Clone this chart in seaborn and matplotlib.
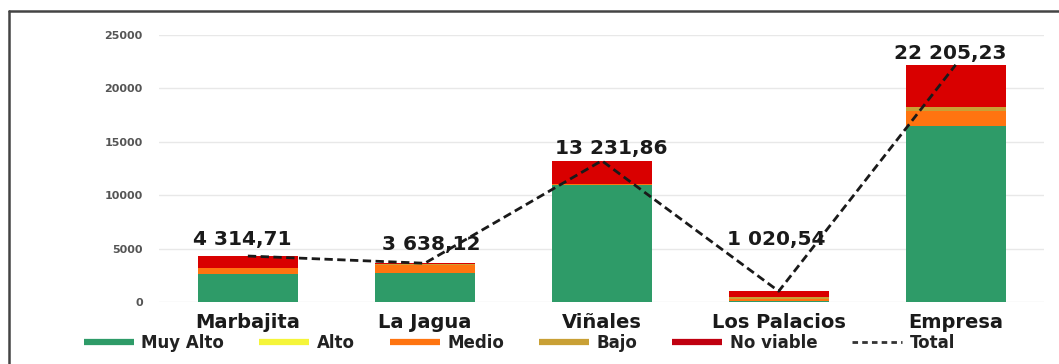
import numpy as np
import pandas as pd
import matplotlib
matplotlib.use("Agg")
import matplotlib.pyplot as plt
from matplotlib.lines import Line2D
import seaborn as sns

# ---- data ----
categories = ["Marbajita", "La Jagua", "Viñales", "Los Palacios", "Empresa"]
muy_alto = [2600, 2750, 10950, 150, 16450]
alto = [0, 0, 0, 0, 0]
medio = [550, 700, 80, 120, 1450]
bajo = [30, 150, 40, 180, 400]
no_viable = [1134.71, 38.12, 2161.86, 570.54, 3905.23]
totals = [4314.71, 3638.12, 13231.86, 1020.54, 22205.23]
total_labels = ["4 314,71", "3 638,12", "13 231,86", "1 020,54", "22 205,23"]
series_names = ["Muy Alto", "Alto", "Medio", "Bajo", "No viable"]
y_ticks = [0, 5000, 10000, 15000, 20000, 25000]

colors = {
    "Muy Alto": "#2e9b68",
    "Alto": "#f5f53a",
    "Medio": "#ff7410",
    "Bajo": "#c9a035",
    "No viable": "#d90000",
}
legend_colors = dict(colors, **{"No viable": "#c00010"})

sns.set_theme(style="white")
plt.rcParams["font.family"] = ["DejaVu Sans"]

fig = plt.figure(figsize=(10.59, 3.64), dpi=100)
ax = fig.add_axes([0.1505, 0.170, 0.8355, 0.734])

df = pd.DataFrame({"cat": categories, "Muy Alto": muy_alto, "Alto": alto,
                   "Medio": medio, "Bajo": bajo, "No viable": no_viable})
series = [df[s].to_numpy(dtype=float) for s in series_names]
cum = np.cumsum(series, axis=0)

# draw from top layer down (overlapping cumulative bars)
for i in range(len(series_names) - 1, -1, -1):
    sns.barplot(x=df["cat"], y=cum[i], color=colors[series_names[i]],
                saturation=1, width=0.565, ax=ax, linewidth=0, order=categories)

# total dashed line
sns.lineplot(x=np.arange(len(categories)), y=totals, ax=ax, color="#1a1a1a",
             linestyle=(0, (3, 1.6)), linewidth=2.0, sort=False)

# value labels
label_dx = [-6, 6, 9, -2, -5]
label_dy = [17, 19, 12.5, 52, 11.5]
for i, (t, lab) in enumerate(zip(totals, total_labels)):
    ax.annotate(lab, xy=(i, t), xytext=(label_dx[i] * 0.72, label_dy[i] * 0.72),
                textcoords="offset points", ha="center", va="center",
                fontsize=14.5, fontweight="bold", color="#1a1a1a")

ax.set_xlim(-0.5, 4.5)
ax.set_ylim(0, 25000)
ax.set_yticks(y_ticks)
ax.set_yticklabels([str(v) for v in y_ticks], fontsize=8, fontweight="bold", color="#555555")
ax.yaxis.grid(True, color="#e8e8e8", linewidth=1)
ax.set_axisbelow(True)
for s in ax.spines.values():
    s.set_visible(False)
ax.tick_params(axis="both", length=0)
ax.tick_params(axis="x", pad=8)
ax.tick_params(axis="y", pad=12)
for lab in ax.get_xticklabels():
    lab.set_fontsize(14)
    lab.set_fontweight("bold")
    lab.set_color("#1a1a1a")
ax.set_xlabel("")
ax.set_ylabel("")

# legend
handles = [Line2D([0], [0], color=legend_colors[n], linewidth=4.5, solid_capstyle="butt")
           for n in series_names]
handles.append(Line2D([0], [0], color="#333333", linewidth=2, linestyle=(0, (2, 1.5)),
                      dash_capstyle="butt"))
labels = series_names + ["Total"]
fig.legend(handles, labels, loc="center", bbox_to_anchor=(0.4905, 0.058), ncol=6,
           frameon=False, handlelength=3.0, handletextpad=0.45, columnspacing=2.1,
           prop={"size": 12, "weight": "bold"}, labelcolor="#222222")

# outer frame (top and left visible)
fx = 8.5 / 1059
fy = 1 - 10.5 / 364
fig.add_artist(Line2D([fx, 1.0], [fy, fy], transform=fig.transFigure, color="#444444", linewidth=1.8))
fig.add_artist(Line2D([fx, fx], [0, fy], transform=fig.transFigure, color="#444444", linewidth=1.8))

fig.savefig("out.png", dpi=100)
